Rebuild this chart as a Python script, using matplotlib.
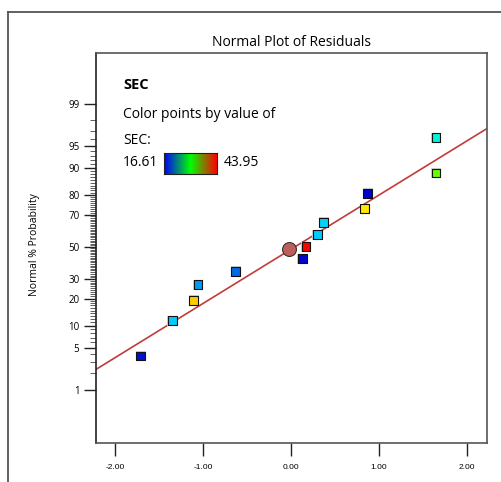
import numpy as np
import matplotlib
matplotlib.use('Agg')
import matplotlib.pyplot as plt
from matplotlib.colors import LinearSegmentedColormap
from statistics import NormalDist

# residuals (x) vs normal % probability (y), coloured by SEC
residuals = [-1.71, -1.35, -1.11, -1.06, -0.63, 0.13, 0.17, 0.30, 0.37, 0.84, 0.87, 1.65, 1.65]
probability = [3.8, 11.5, 19.2, 26.9, 34.6, 42.3, 50.0, 57.7, 65.4, 73.1, 80.8, 88.5, 96.2]
sec = [17.2, 23.4, 38.5, 21.8, 20.2, 16.9, 43.95, 23.4, 24.0, 37.7, 16.61, 33.0, 26.2]
sec_min, sec_max = 16.61, 43.95

line_x = [-2.23, 2.23]
line_slope, line_int = 0.88, -0.04
center_pt = (-0.02, 48.5)

major_probs = [1, 5, 10, 20, 30, 50, 70, 80, 90, 95, 99]
minor_probs = [2, 3, 4] + list(range(6, 95)) + [96, 97, 98]
x_ticks = [-2, -1, 0, 1, 2]

nd = NormalDist()
z = lambda p: nd.inv_cdf(p / 100.0)

plt.rcParams['font.family'] = ['Open Sans', 'DejaVu Sans']

fig = plt.figure(figsize=(5.02, 4.82), dpi=100)
ax = fig.add_axes([96/502, 1-443/482, 391/502, 390/482])

cmap = LinearSegmentedColormap.from_list(
    'sec', [(0, '#0000CC'), (0.25, '#00CCFF'), (0.38, '#00FFCC'), (0.5, '#00FF00'),
            (0.75, '#FFFF00'), (1, '#FF0000')])

# fitted line
lx = np.array(line_x)
ax.plot(lx, line_int + line_slope * lx, color='#C23B3B', lw=1.2, zorder=2)

# points
yz = [z(p) for p in probability]
ax.scatter(residuals, yz, marker='s', s=55, color='#D0D0D0', zorder=3, linewidths=0)
ax.scatter(residuals, yz, marker='s', s=40, c=sec, cmap=cmap, vmin=sec_min, vmax=sec_max,
           edgecolors='#111111', linewidths=0.8, zorder=4)
ax.plot(center_pt[0], z(center_pt[1]), 'o', ms=10, color='#BC5E5E', mec='#333333', mew=0.8, zorder=5)

ax.set_xlim(-2.22, 2.23)
ax.set_ylim(-3.19, 3.15)
ax.set_xticks(x_ticks)
ax.set_xticklabels(['%.2f' % v for v in x_ticks], fontsize=6, family='Liberation Sans')
ax.set_yticks([z(p) for p in major_probs])
ax.set_yticklabels([str(p) for p in major_probs], fontsize=7)
ax.set_yticks([z(p) for p in minor_probs], minor=True)
ax.tick_params(axis='y', which='major', length=9, width=1, color='#222222', pad=3)
ax.tick_params(axis='y', which='minor', length=4, width=0.6, color='#444444')
ax.tick_params(axis='x', length=9, width=1, color='#222222', pad=6)
for s in ax.spines.values():
    s.set_color('#555555')
    s.set_linewidth(1.2)
ax.spines['left'].set_color('#222222')

ax.set_title('Normal Plot of Residuals', fontsize=10, pad=5)
fig.text(35/502, 1-245/482, 'Normal % Probability', rotation=90, fontsize=7.5, ha='center', va='center')

# legend text
fig.text(123/502, 1-85/482, 'SEC', fontsize=10.5, weight='bold', va='center')
fig.text(123/502, 1-115/482, 'Color points by value of', fontsize=10, va='center')
fig.text(123/502, 1-140/482, 'SEC:', fontsize=10, va='center')
fig.text(123/502, 1-163/482, '%.2f' % sec_min, fontsize=10, va='center')
fig.text(224/502, 1-163/482, '%.2f' % sec_max, fontsize=10, va='center')
cax = fig.add_axes([164/502, 1-174/482, 53/502, 21/482])
bar_cmap = LinearSegmentedColormap.from_list('bar', ['#0000FF', '#00FF00', '#FF0000'])
cax.imshow(np.linspace(0, 1, 100).reshape(1, -1), aspect='auto', cmap=bar_cmap)
cax.set_xticks([])
cax.set_yticks([])
for s in cax.spines.values():
    s.set_color('#222222')
    s.set_linewidth(0.8)

# outer frame
fig.add_artist(plt.Line2D([8/502, 8/502], [0, 1-12/482], transform=fig.transFigure, color='#555555', lw=1.3))
fig.add_artist(plt.Line2D([8/502, 1], [1-12/482, 1-12/482], transform=fig.transFigure, color='#555555', lw=1.3))

fig.savefig('out.png', dpi=100)
